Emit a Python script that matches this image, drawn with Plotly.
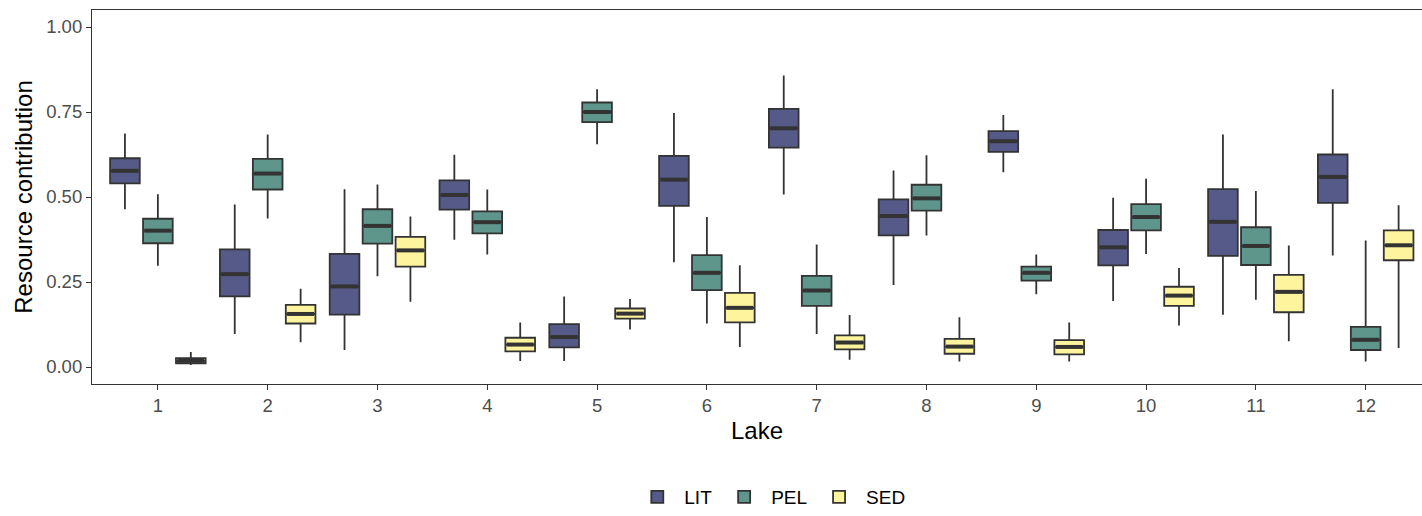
import plotly.graph_objects as go

# Lakes on the x axis
lakes = [1, 2, 3, 4, 5, 6, 7, 8, 9, 10, 11, 12]
groups = ["LIT", "PEL", "SED"]

# Box statistics per resource group, one value per lake
lit_low = [0.464, 0.097, 0.050, 0.374, 0.018, 0.308, 0.507, 0.241, 0.573, 0.194, 0.154, 0.328]
lit_q1 = [0.540, 0.208, 0.154, 0.463, 0.058, 0.474, 0.645, 0.387, 0.633, 0.299, 0.327, 0.483]
lit_med = [0.577, 0.273, 0.237, 0.506, 0.088, 0.551, 0.702, 0.444, 0.664, 0.352, 0.427, 0.559]
lit_q3 = [0.614, 0.346, 0.333, 0.549, 0.126, 0.621, 0.759, 0.493, 0.694, 0.403, 0.523, 0.625]
lit_high = [0.687, 0.478, 0.523, 0.624, 0.207, 0.747, 0.857, 0.578, 0.741, 0.498, 0.684, 0.817]

pel_low = [0.298, 0.437, 0.267, 0.331, 0.655, 0.128, 0.097, 0.387, 0.214, 0.332, 0.198, 0.016]
pel_q1 = [0.364, 0.522, 0.363, 0.393, 0.720, 0.226, 0.180, 0.460, 0.254, 0.402, 0.300, 0.050]
pel_med = [0.401, 0.569, 0.415, 0.426, 0.750, 0.277, 0.225, 0.496, 0.277, 0.441, 0.356, 0.080]
pel_q3 = [0.436, 0.612, 0.464, 0.458, 0.778, 0.329, 0.268, 0.536, 0.295, 0.479, 0.411, 0.118]
pel_high = [0.508, 0.684, 0.537, 0.522, 0.817, 0.441, 0.360, 0.623, 0.331, 0.554, 0.518, 0.372]

sed_low = [0.006, 0.073, 0.192, 0.018, 0.110, 0.059, 0.021, 0.016, 0.016, 0.122, 0.076, 0.056]
sed_q1 = [0.011, 0.128, 0.295, 0.046, 0.142, 0.131, 0.052, 0.039, 0.037, 0.180, 0.161, 0.314]
sed_med = [0.018, 0.156, 0.343, 0.066, 0.157, 0.174, 0.072, 0.060, 0.059, 0.210, 0.221, 0.358]
sed_q3 = [0.026, 0.183, 0.383, 0.086, 0.172, 0.218, 0.093, 0.083, 0.079, 0.236, 0.271, 0.402]
sed_high = [0.044, 0.230, 0.443, 0.131, 0.200, 0.299, 0.153, 0.146, 0.131, 0.291, 0.357, 0.476]

y_ticks = [0.0, 0.25, 0.5, 0.75, 1.0]
y_tick_labels = ["0.00", "0.25", "0.50", "0.75", "1.00"]

stats = {
    "LIT": (lit_low, lit_q1, lit_med, lit_q3, lit_high),
    "PEL": (pel_low, pel_q1, pel_med, pel_q3, pel_high),
    "SED": (sed_low, sed_q1, sed_med, sed_q3, sed_high),
}
fills = {"LIT": "#565A88", "PEL": "#5E968C", "SED": "#FEF49E"}
dodge = {"LIT": -0.3, "PEL": 0.0, "SED": 0.3}
box_w = 0.27
edge = "#333333"
font_family = "Liberation Sans, Arial, sans-serif"

fig = go.Figure()
for g in groups:
    low, q1, med, q3, high = stats[g]
    xs = [lake + dodge[g] for lake in lakes]
    fig.add_trace(go.Box(
        name=g, x=xs, lowerfence=low, q1=q1, median=med, q3=q3, upperfence=high,
        width=box_w, whiskerwidth=0, fillcolor=fills[g],
        line=dict(color=edge, width=1.8), boxpoints=False, hoverinfo="skip",
    ))

# Heavier median bars drawn over each box
for g in groups:
    med = stats[g][2]
    mx, my = [], []
    for lake, m in zip(lakes, med):
        c = lake + dodge[g]
        mx += [c - box_w / 2 + 0.012, c + box_w / 2 - 0.012, None]
        my += [m, m, None]
    fig.add_trace(go.Scatter(
        x=mx, y=my, mode="lines", line=dict(color=edge, width=4),
        showlegend=False, hoverinfo="skip",
    ))

fig.update_layout(
    width=1422, height=516,
    margin=dict(l=92, r=0, t=10, b=132),
    paper_bgcolor="white", plot_bgcolor="white",
    boxmode="overlay",
    font=dict(family=font_family, color="#000000"),
    showlegend=True,
    legend=dict(
        orientation="h", x=0.51, xanchor="center", y=-0.302, yanchor="middle",
        font=dict(size=19, color="#000000", family=font_family),
        itemwidth=44, traceorder="normal",
    ),
)
fig.update_xaxes(
    range=[0.4, 12.513], tickmode="array", tickvals=lakes,
    ticktext=[str(v) for v in lakes],
    ticks="outside", ticklen=5, tickwidth=1.2, tickcolor=edge,
    tickfont=dict(size=18.5, color="#4D4D4D"),
    showline=True, linecolor=edge, linewidth=1.2, mirror=True,
    showgrid=False, zeroline=False,
    title=dict(text="Lake", font=dict(size=24, color="#000000"), standoff=6),
)
fig.update_yaxes(
    range=[-0.05, 1.05], tickmode="array", tickvals=y_ticks, ticktext=y_tick_labels,
    ticks="outside", ticklen=5, tickwidth=1.2, tickcolor=edge,
    tickfont=dict(size=18.5, color="#4D4D4D"),
    showline=True, linecolor=edge, linewidth=1.2, mirror=False,
    showgrid=False, zeroline=False,
    title=dict(text="Resource contribution", font=dict(size=24, color="#000000"), standoff=6),
)

fig.write_html("out.html")
